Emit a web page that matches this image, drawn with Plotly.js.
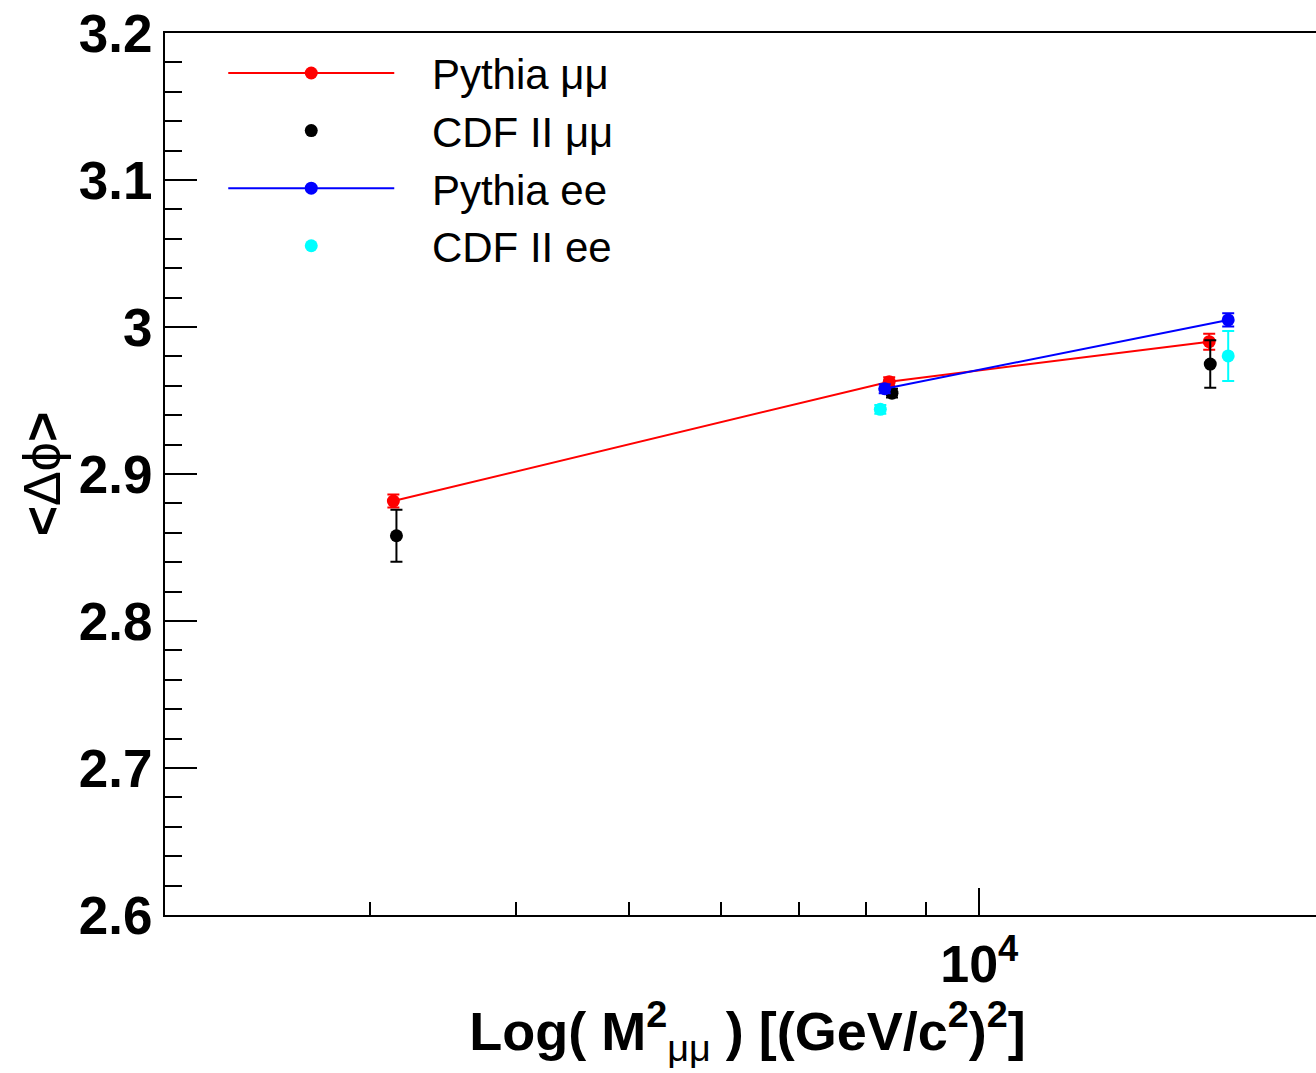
<!DOCTYPE html>
<html>
<head>
<meta charset="utf-8">
<script src="https://cdn.plot.ly/plotly-3.0.1.min.js"></script>
<style>
  html, body { margin: 0; padding: 0; overflow: hidden; background: #fff; }
  #chart { width: 1330px; height: 1073px; }
</style>
</head>
<body>
<div id="chart"></div>
<script>
// ---- data ----
const massPythiaMM = [3141, 8369, 15752];
const dphiPythiaMM = [2.8816, 2.9628, 2.990];
const errPythiaMM  = [0.0044, 0.003, 0.0054];

const massCdfMM = [3160, 8415, 15785];
const dphiCdfMM = [2.858, 2.955, 2.9748];
const errCdfMM  = [0.0177, 0.003, 0.0162];

const massPythiaEE = [8295, 16355];
const dphiPythiaEE = [2.958, 3.0048];
const errPythiaEE  = [0.003, 0.0045];

const massCdfEE = [8223, 16355];
const dphiCdfEE = [2.944, 2.9803];
const errCdfEE  = [0.003, 0.017];

const seriesNames = ['Pythia μμ', 'CDF II μμ', 'Pythia ee', 'CDF II ee'];

const xMajorTicks = [10000];
const xMajorLabels = ['10<sup>4</sup>'];
const xMinorTicks = [3000, 4000, 5000, 6000, 7000, 8000, 9000];

const FONT = 'Liberation Sans, Arial, Helvetica, sans-serif';
const LEGEND_PAD = '\u00a0\u2002';

function errs(arr, color) {
  return { type: 'data', array: arr, visible: true, color: color, thickness: 2, width: 6 };
}

const traces = [
  { x: massPythiaMM, y: dphiPythiaMM, name: LEGEND_PAD + seriesNames[0], type: 'scatter', mode: 'lines+markers',
    line: { color: '#ff0000', width: 2 }, marker: { color: '#ff0000', size: 13 },
    error_y: errs(errPythiaMM, '#ff0000') },
  { x: massCdfMM, y: dphiCdfMM, name: LEGEND_PAD + seriesNames[1], type: 'scatter', mode: 'markers',
    marker: { color: '#000000', size: 13 }, error_y: errs(errCdfMM, '#000000') },
  { x: massPythiaEE, y: dphiPythiaEE, name: LEGEND_PAD + seriesNames[2], type: 'scatter', mode: 'lines+markers',
    line: { color: '#0000ff', width: 2 }, marker: { color: '#0000ff', size: 13 },
    error_y: errs(errPythiaEE, '#0000ff') },
  { x: massCdfEE, y: dphiCdfEE, name: LEGEND_PAD + seriesNames[3], type: 'scatter', mode: 'markers',
    marker: { color: '#00ffff', size: 13 }, error_y: errs(errCdfEE, '#00ffff') }
];

const layout = {
  width: 1330, height: 1073,
  margin: { l: 165, r: 0, t: 33, b: 158 },
  paper_bgcolor: '#ffffff', plot_bgcolor: '#ffffff',
  showlegend: true,
  legend: {
    x: 0.05, y: 0.993, xanchor: 'left', yanchor: 'top',
    bgcolor: 'rgba(0,0,0,0)', borderwidth: 0,
    font: { family: FONT, size: 42, color: '#000' },
    itemwidth: 166, tracegroupgap: 0
  },
  xaxis: {
    type: 'log', range: [Math.log10(2000), Math.log10(20000)],
    showline: true, linecolor: '#000', linewidth: 2, mirror: true,
    showgrid: false, zeroline: false,
    tickmode: 'array', tickvals: xMajorTicks, ticktext: xMajorLabels,
    ticks: 'inside', ticklen: 27, tickwidth: 2, tickcolor: '#000',
    tickfont: { family: FONT, size: 52, color: '#000', weight: 'bold' },
    ticklabelstandoff: 3,
    minor: { tickmode: 'array', tickvals: xMinorTicks, ticks: 'inside', ticklen: 13, tickwidth: 2, tickcolor: '#000', showgrid: false },
    title: {
      text: 'Log( M<sup>2</sup><sub><span style="font-weight:normal">μμ</span></sub> ) [(GeV/c<sup>2</sup>)<sup>2</sup>]',
      font: { family: FONT, size: 54, color: '#000', weight: 'bold' },
      standoff: 0
    }
  },
  yaxis: {
    range: [2.6, 3.2],
    showline: true, linecolor: '#000', linewidth: 2, mirror: true,
    showgrid: false, zeroline: false,
    tickmode: 'linear', tick0: 2.6, dtick: 0.1, tickformat: '.1~f',
    ticks: 'inside', ticklen: 32, tickwidth: 2, tickcolor: '#000',
    tickfont: { family: FONT, size: 53, color: '#000', weight: 'bold' },
    ticklabelstandoff: 0,
    minor: { dtick: 0.02, ticks: 'inside', ticklen: 17, tickwidth: 2, tickcolor: '#000', showgrid: false },
    title: {
      text: '<b>&lt;</b>Δϕ<b>&gt;</b>',
      font: { family: FONT, size: 52, color: '#000' },
      standoff: 2
    }
  }
};

Plotly.newPlot('chart', traces, layout, { displayModeBar: false, staticPlot: true });
</script>
</body>
</html>
